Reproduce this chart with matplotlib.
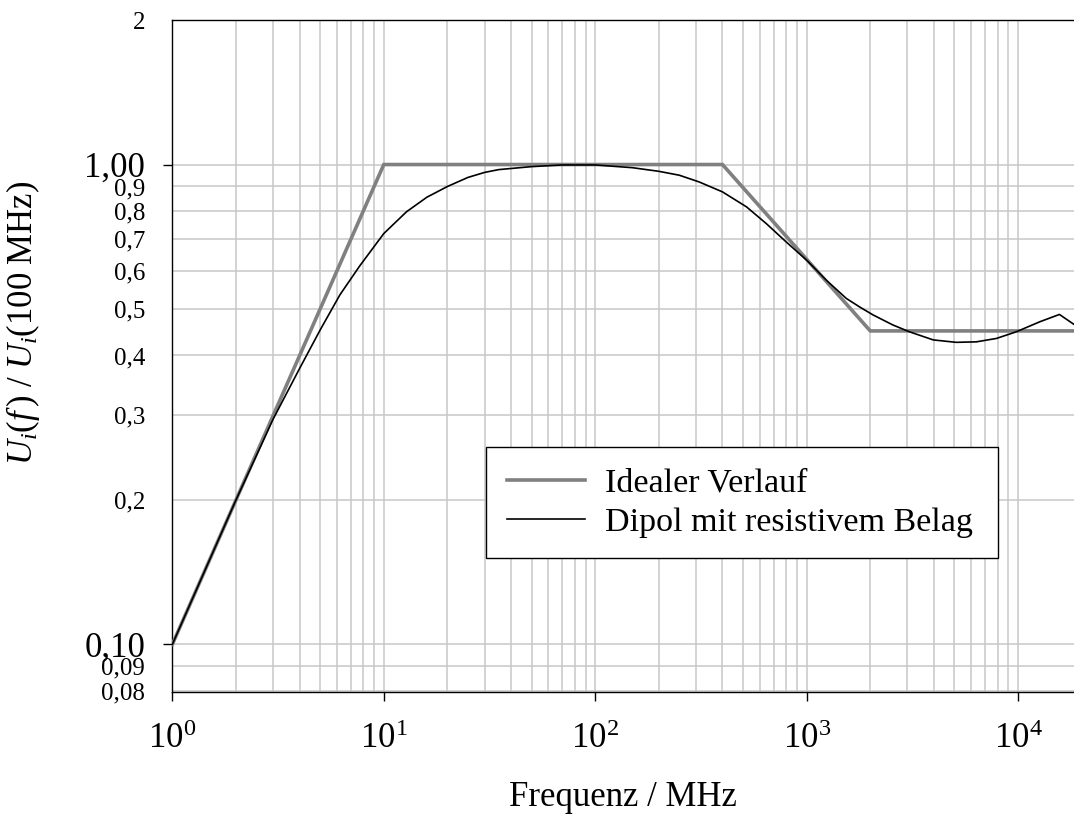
import matplotlib

matplotlib.use("Agg")
import matplotlib.pyplot as plt
from matplotlib.ticker import FixedLocator, FixedFormatter

plt.rcParams["font.family"] = ["Liberation Serif", "DejaVu Serif"]
plt.rcParams["mathtext.fontset"] = "custom"
plt.rcParams["mathtext.rm"] = "Liberation Serif"
plt.rcParams["mathtext.it"] = "Liberation Serif:italic"

# idealised response (corner points)
ideal_f = [1, 10, 400, 2000, 20000]
ideal_u = [0.1, 1.0, 1.0, 0.45, 0.45]

# dipole with resistive coating
dipol_f = [1, 2, 3, 4, 5, 6.2, 7.7, 10, 12.8, 16, 20, 25, 30, 35, 50, 70, 100,
           150, 200, 250, 310, 400, 520, 645, 800, 1000, 1240, 1540, 1780,
           2060, 2560, 3070, 3970, 5100, 6350, 7900, 9800, 12650, 15700, 18300]
dipol_u = [0.1, 0.2, 0.295, 0.376, 0.452, 0.535, 0.615, 0.718, 0.797, 0.855,
           0.90, 0.94, 0.963, 0.976, 0.99, 0.998, 0.998, 0.985, 0.968, 0.95,
           0.92, 0.877, 0.816, 0.753, 0.69, 0.632, 0.574, 0.526, 0.505, 0.486,
           0.463, 0.448, 0.431, 0.426, 0.427, 0.434, 0.448, 0.47, 0.487, 0.465]

y_major = [0.1, 1.0]
y_major_labels = ["0,10", "1,00"]
y_minor = [0.08, 0.09, 0.2, 0.3, 0.4, 0.5, 0.6, 0.7, 0.8, 0.9, 2.0]
y_minor_labels = ["0,08", "0,09", "0,2", "0,3", "0,4", "0,5", "0,6", "0,7",
                  "0,8", "0,9", "2"]
x_major = [1, 10, 100, 1000, 10000]
x_major_labels = [r"$\mathregular{10^{%d}}$" % i for i in range(5)]

fig = plt.figure(figsize=(10.74, 8.21), dpi=100)
ax = fig.add_axes([0.1605, 0.157, 0.8395, 0.8185])

ax.plot(ideal_f, ideal_u, color="#808080", lw=2.6, label="Idealer Verlauf",
        solid_joinstyle="miter", zorder=3)
ax.plot(dipol_f, dipol_u, color="black", lw=1.2,
        label="Dipol mit resistivem Belag", zorder=4)

ax.set_xscale("log")
ax.set_yscale("log")
ax.set_xlim(1, 18400)
ax.set_ylim(0.0795, 2.0)

ax.xaxis.set_major_locator(FixedLocator(x_major))
ax.xaxis.set_major_formatter(FixedFormatter(x_major_labels))
ax.xaxis.set_minor_locator(FixedLocator(
    [m * 10 ** d for d in range(5) for m in range(2, 10)]))
ax.yaxis.set_major_locator(FixedLocator(y_major))
ax.yaxis.set_major_formatter(FixedFormatter(y_major_labels))
ax.yaxis.set_minor_locator(FixedLocator(y_minor))
ax.yaxis.set_minor_formatter(FixedFormatter(y_minor_labels))

ax.tick_params(axis="x", which="major", direction="out", length=6.5,
               width=1, labelsize=25, pad=16)
ax.tick_params(axis="x", which="minor", length=0)
ax.tick_params(axis="y", which="major", direction="out", length=6.5,
               width=1, labelsize=25, pad=13)
ax.tick_params(axis="y", which="minor", length=0, labelsize=18, pad=19.7)

ax.grid(True, which="both", color="#c8c8c8", lw=1.1, zorder=0)
ax.set_axisbelow(True)
for side in ("left", "bottom", "top"):
    ax.spines[side].set_linewidth(1.0)
    ax.spines[side].set_color("black")
ax.spines["right"].set_visible(False)

ax.set_xlabel("Frequenz / MHz", fontsize=25)
ax.xaxis.set_label_coords(0.5, -0.133)
ax.set_ylabel(r"$U_i(f\,)\ /\ U_i(\mathregular{100\ MHz})$", fontsize=25)
ax.yaxis.set_label_coords(-0.145, 0.549)

leg = ax.legend(loc="lower left", bbox_to_anchor=(0.348, 0.199, 0.568, 0.18),
                mode="expand", fontsize=24.5, frameon=True, fancybox=False,
                edgecolor="black", framealpha=1, handlelength=2.3,
                handletextpad=0.58, labelspacing=0.25, borderpad=0.6,
                borderaxespad=0)
leg.get_frame().set_linewidth(1.0)

fig.savefig("out.png", dpi=100)
